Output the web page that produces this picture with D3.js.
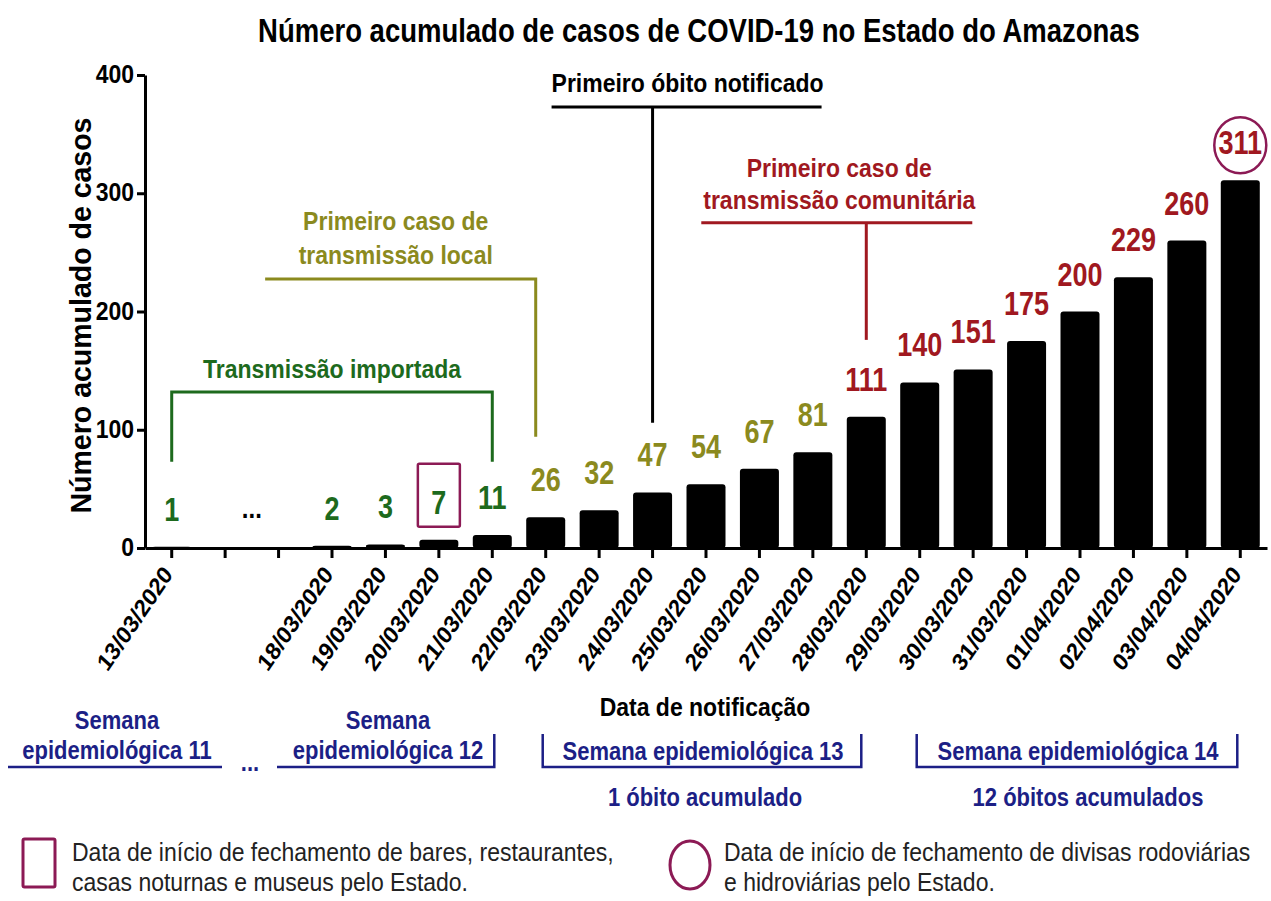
<!DOCTYPE html>
<html>
<head>
<meta charset="utf-8">
<script src="https://cdn.jsdelivr.net/npm/d3@7"></script>
<style>
  body { margin: 0; background: #fff; }
  svg { display: block; font-family: "Liberation Sans", Arial, sans-serif; }
</style>
</head>
<body>
<svg id="chart" width="1271" height="901"></svg>
<script>
// data ("" = empty slot on the axis)
const dates = ["13/03/2020", "", "", "18/03/2020", "19/03/2020", "20/03/2020", "21/03/2020",
  "22/03/2020", "23/03/2020", "24/03/2020", "25/03/2020", "26/03/2020", "27/03/2020",
  "28/03/2020", "29/03/2020", "30/03/2020", "31/03/2020", "01/04/2020", "02/04/2020",
  "03/04/2020", "04/04/2020"];
const cases = [1, null, null, 2, 3, 7, 11, 26, 32, 47, 54, 67, 81, 111, 140, 151, 175, 200, 229, 260, 311];
const phases = ["imp", "imp", "imp", "imp", "imp", "imp", "imp", "loc", "loc", "loc", "loc", "loc",
  "loc", "com", "com", "com", "com", "com", "com", "com", "com"];
const yTicks = [0, 100, 200, 300, 400];

const title = "Número acumulado de casos de COVID-19 no Estado do Amazonas";
const yLabel = "Número acumulado de casos";
const xLabel = "Data de notificação";
const weekLabels = [["Semana", "epidemiológica 11"], ["Semana", "epidemiológica 12"],
  ["Semana epidemiológica 13"], ["Semana epidemiológica 14"]];
const deathLabels = ["1 óbito acumulado", "12 óbitos acumulados"];
const legendLabels = [
  ["Data de início de fechamento de bares, restaurantes,", "casas noturnas e museus pelo Estado."],
  ["Data de início de fechamento de divisas rodoviárias", "e hidroviárias pelo Estado."]
];

const colors = { imp: "#1d6a1d", loc: "#8b8a1e", com: "#a01820", black: "#000",
  navy: "#1c1f86", mark: "#8c1a55" };

// the source picture is a little taller than wide, so text gets a vertical stretch
const SY = 1.15;

const svg = d3.select("#chart");
const idx = d3.range(dates.length);

const x = d3.scaleBand().domain(idx).range([145, 1267]).paddingInner(0.27).paddingOuter(0.135);
const y = d3.scaleLinear().domain([0, 400]).range([548, 75]);
const xc = i => x(i) + x.bandwidth() / 2;

// multi-line text helper
function txt(px, py, lines, opt) {
  const sy = opt.sy || SY;
  const t = svg.append("text")
    .attr("transform", `translate(${px},${py}) scale(1,${sy})`)
    .attr("text-anchor", opt.anchor || "middle")
    .style("font-size", opt.size + "px")
    .style("font-weight", opt.bold === false ? "normal" : "bold")
    .attr("fill", opt.color || "#000");
  lines.forEach((l, k) => t.append("tspan").attr("x", 0).attr("y", k * (opt.lh || 0) / sy).text(l));
  return t;
}

// title
txt(699, 42, [title], { size: 27.5, sy: 1.2 });

// bars
svg.append("g")
  .selectAll("rect")
  .data(idx.filter(i => cases[i] != null))
  .join("rect")
  .attr("x", i => x(i))
  .attr("width", x.bandwidth())
  .attr("y", i => y(cases[i]))
  .attr("height", i => y(0) - y(cases[i]))
  .attr("rx", 3)
  .attr("fill", "#000");

// value labels
svg.append("g")
  .selectAll("text")
  .data(idx.filter(i => cases[i] != null))
  .join("text")
  .attr("transform", i => `translate(${xc(i)},${y(cases[i]) - 26}) scale(1,1.2)`)
  .attr("text-anchor", "middle")
  .style("font-size", "27px").style("font-weight", "bold")
  .attr("fill", i => colors[phases[i]])
  .text(i => cases[i]);

// gap dots on the chart
txt((xc(1) + xc(2)) / 2, y(0) - 30, ["..."], { size: 24 });

// axes
const yAxis = svg.append("g")
  .attr("transform", "translate(145,0)")
  .call(d3.axisLeft(y).tickValues(yTicks).tickSize(8).tickSizeOuter(0).tickPadding(3));
yAxis.selectAll("text")
  .style("font-size", "23px").style("font-weight", "bold").attr("fill", "#000")
  .attr("transform", "scale(1,1.1)").attr("dy", "0.3em");

const xAxis = svg.append("g")
  .attr("transform", `translate(0,${y(0)})`)
  .call(d3.axisBottom(x).tickSize(10).tickSizeOuter(0).tickFormat(i => dates[i]));
xAxis.selectAll("text")
  .style("font-size", "21.5px").style("font-weight", "bold").attr("fill", "#000")
  .attr("text-anchor", "end")
  .attr("dy", 0).attr("y", 0)
  .attr("transform", `translate(2,27) scale(1,${SY}) rotate(-52)`);

[yAxis, xAxis].forEach(g => {
  g.select(".domain").attr("stroke", "#000").attr("stroke-width", 3);
  g.selectAll(".tick line").attr("stroke", "#000").attr("stroke-width", 3);
});

// y label
svg.append("text")
  .attr("transform", `translate(91,${(y(0) + y(400)) / 2 + 4}) rotate(-90) scale(1.0,1.05)`)
  .attr("text-anchor", "middle")
  .style("font-size", "28.5px").style("font-weight", "bold")
  .text(yLabel);

// annotations
const ann = svg.append("g").attr("fill", "none").attr("stroke-width", 3);
function path(pts, color) {
  ann.append("path").attr("d", d3.line()(pts)).attr("stroke", color);
}

// transmissão importada
path([[xc(0), y(73)], [xc(0), y(132)], [xc(6), y(132)], [xc(6), y(73)]], colors.imp);
txt((xc(0) + xc(6)) / 2, y(144), ["Transmissão importada"], { size: 23, color: colors.imp });

// transmissão local
path([[xc(1) + 40, y(227.5)], [xc(7) - 10, y(227.5)], [xc(7) - 10, y(94)]], colors.loc);
txt(xc(7) - 150, y(269), ["Primeiro caso de", "transmissão local"], { size: 23, lh: 34, color: colors.loc });

// primeiro óbito
path([[xc(9) - 101, y(373)], [xc(9) + 169, y(373)]], colors.black);
path([[xc(9), y(373)], [xc(9), y(106)]], colors.black);
txt(xc(9) + 35, y(385.5), ["Primeiro óbito notificado"], { size: 23 });

// transmissão comunitária
path([[xc(13) - 165, y(275)], [xc(13) + 106, y(275)]], colors.com);
path([[xc(13), y(275)], [xc(13), y(176)]], colors.com);
txt(xc(13) - 27, y(313.5), ["Primeiro caso de", "transmissão comunitária"], { size: 23, lh: 32, color: colors.com });

// markers: square on 20/03, circle on 04/04
svg.append("rect")
  .attr("x", xc(5) - 21).attr("y", y(cases[5]) - 76)
  .attr("width", 42).attr("height", 63)
  .attr("fill", "none").attr("stroke", colors.mark).attr("stroke-width", 2.5).attr("rx", 1.5);
svg.append("ellipse")
  .attr("cx", xc(20)).attr("cy", y(cases[20]) - 35)
  .attr("rx", 26).attr("ry", 28)
  .attr("fill", "none").attr("stroke", colors.mark).attr("stroke-width", 2.5);

// x label
txt(705, 716, [xLabel], { size: 23 });

// epidemiological weeks
const wk = svg.append("g").attr("fill", "none").attr("stroke", colors.navy).attr("stroke-width", 2.5);
const wkY = 767;
wk.append("path").attr("d", d3.line()([[8, wkY], [222, wkY]]));
wk.append("path").attr("d", d3.line()([[277, wkY], [xc(6) + 2, wkY], [xc(6) + 2, 734]]));
wk.append("path").attr("d", d3.line()([[xc(7) - 3, 734], [xc(7) - 3, wkY], [xc(13) - 5, wkY], [xc(13) - 5, 734]]));
wk.append("path").attr("d", d3.line()([[xc(14) - 3, 734], [xc(14) - 3, wkY], [xc(20) - 3, wkY], [xc(20) - 3, 734]]));

const wkCenters = [117, 388, 703, 1078];
weekLabels.forEach((lines, k) => {
  const base = lines.length === 2 ? 729 : 760;
  txt(wkCenters[k], base, lines, { size: 22, lh: 30, color: colors.navy });
});
txt(250, 771, ["..."], { size: 22, color: colors.navy });
deathLabels.forEach((l, k) => txt([705, 1088][k], 806, [l], { size: 22, color: colors.navy }));

// legend
svg.append("rect")
  .attr("x", 23).attr("y", 839).attr("width", 32).attr("height", 48)
  .attr("fill", "none").attr("stroke", colors.mark).attr("stroke-width", 3).attr("rx", 1.5);
svg.append("ellipse")
  .attr("cx", 690).attr("cy", 865).attr("rx", 20).attr("ry", 24)
  .attr("fill", "none").attr("stroke", colors.mark).attr("stroke-width", 3);
legendLabels.forEach((lines, k) => {
  txt([72, 724][k], 861, lines, { size: 23, lh: 30, bold: false, anchor: "start", color: "#222", sy: 1.1 });
});
</script>
</body>
</html>
